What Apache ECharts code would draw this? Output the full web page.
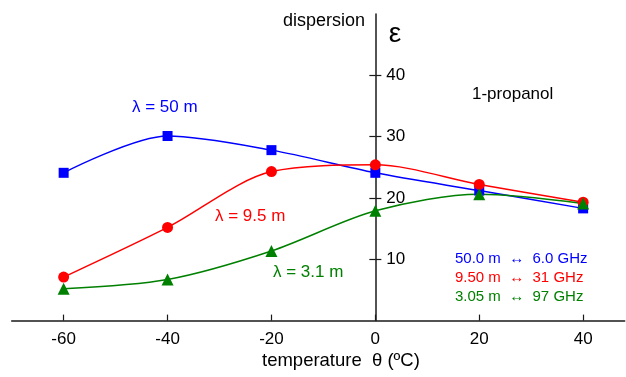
<!DOCTYPE html>
<html>
<head>
<meta charset="utf-8">
<script src="https://cdn.jsdelivr.net/npm/echarts@6/dist/echarts.min.js"></script>
<style>
  html, body { margin: 0; padding: 0; background: #fff; }
  #chart { width: 626px; height: 377px; }
</style>
</head>
<body>
<div id="chart"></div>
<script>
// Dielectric dispersion of 1-propanol versus temperature
const temperatures = [-60, -40, -20, 0, 20, 40];
const eps50m  = [24.1, 30.1, 27.8, 24.1, 21.2, 18.3];   // λ = 50 m  (6.0 GHz)
const eps9_5m = [7.1, 15.2, 24.3, 25.4, 22.2, 19.3];    // λ = 9.5 m (31 GHz)
const eps3_1m = [5.2, 6.7, 11.35, 17.9, 20.6, 19.1];    // λ = 3.1 m (97 GHz)
const xTicks = [-60, -40, -20, 0, 20, 40];
const yTicks = [10, 20, 30, 40];

const FONT = '"Liberation Sans", Arial, sans-serif';
const AXIS = '#1a1a1a';
const BLUE = '#0000ff', RED = '#ff0000', GREEN = '#008000';

const X_MIN = -70, X_MAX = 48, Y_MIN = 0, Y_MAX = 50;
const GRID = { left: 11.7, right: 1.3, top: 14, bottom: 56.4 };
const plotWidth = 626 - GRID.left - GRID.right;
// pixel distance from the grid's left edge to the θ = 0 line
const zeroFromLeft = plotWidth * (0 - X_MIN) / (X_MAX - X_MIN);

const pairs = (ys) => temperatures.map((t, i) => [t, ys[i]]);

const chart = echarts.init(document.getElementById('chart'), null, { renderer: 'canvas' });

function lineSeries(name, ys, color, symbol, size) {
  return {
    name, type: 'line', data: pairs(ys), smooth: 0.3,
    symbol, symbolSize: size, xAxisIndex: 0, yAxisIndex: 0,
    lineStyle: { color, width: 1.5 },
    itemStyle: { color },
    z: 3
  };
}

function text(str, x, y, color, size, align) {
  return {
    type: 'text', x, y, z: 10,
    style: { text: str, fill: color, font: size + 'px ' + FONT, align: align || 'left', verticalAlign: 'middle' }
  };
}

chart.setOption({
  animation: false,
  backgroundColor: '#fff',
  grid: Object.assign({ containLabel: false }, GRID),
  xAxis: {
    type: 'value', min: X_MIN, max: X_MAX,
    axisLine: { onZero: false, lineStyle: { color: AXIS, width: 1.5 } },
    axisTick: { inside: true, length: 6, customValues: xTicks, lineStyle: { color: AXIS, width: 1.2 } },
    axisLabel: { customValues: xTicks, color: '#000', fontSize: 17, fontFamily: FONT, margin: 10 },
    splitLine: { show: false }
  },
  yAxis: [
    {
      // ε axis drawn along θ = 0, ticks to the left, labels to the right
      type: 'value', min: Y_MIN, max: Y_MAX, position: 'left', offset: -zeroFromLeft,
      axisLine: { show: true, onZero: false, lineStyle: { color: AXIS, width: 1.5 } },
      axisTick: { show: true, inside: false, length: 6, customValues: yTicks, lineStyle: { color: AXIS, width: 1.2 } },
      axisLabel: { inside: true, customValues: yTicks, color: '#000', fontSize: 17, fontFamily: FONT, margin: 11 },
      splitLine: { show: false }
    },
    {
      // same ε scale sitting on θ = 0, supplying the right half of each tick
      type: 'value', min: Y_MIN, max: Y_MAX, position: 'left',
      axisLine: { show: false, onZero: true, onZeroAxisIndex: 0 },
      axisTick: { show: true, inside: true, length: 6, customValues: yTicks, lineStyle: { color: AXIS, width: 1.2 } },
      axisLabel: { show: false },
      splitLine: { show: false }
    }
  ],
  series: [
    lineSeries('50 m', eps50m, BLUE, 'rect', 10),
    lineSeries('9.5 m', eps9_5m, RED, 'circle', 11),
    lineSeries('3.1 m', eps3_1m, GREEN, 'triangle', 12)
  ],
  graphic: [
    text('dispersion', 365, 21, '#000', 18, 'right'),
    text('ε', 395, 34, '#000', 28, 'center'),
    text('1-propanol', 472, 94, '#000', 17, 'left'),
    text('λ = 50 m', 132, 107, BLUE, 17, 'left'),
    text('λ = 9.5 m', 215, 216, RED, 17, 'left'),
    text('λ = 3.1 m', 273, 272, GREEN, 17, 'left'),
    text('50.0 m  ↔  6.0 GHz', 455, 259, BLUE, 15, 'left'),
    text('9.50 m  ↔  31 GHz', 455, 278, RED, 15, 'left'),
    text('3.05 m  ↔  97 GHz', 455, 297, GREEN, 15, 'left'),
    text('temperature  θ (ºC)', 262, 361, '#000', 18.5, 'left')
  ]
});
</script>
</body>
</html>
